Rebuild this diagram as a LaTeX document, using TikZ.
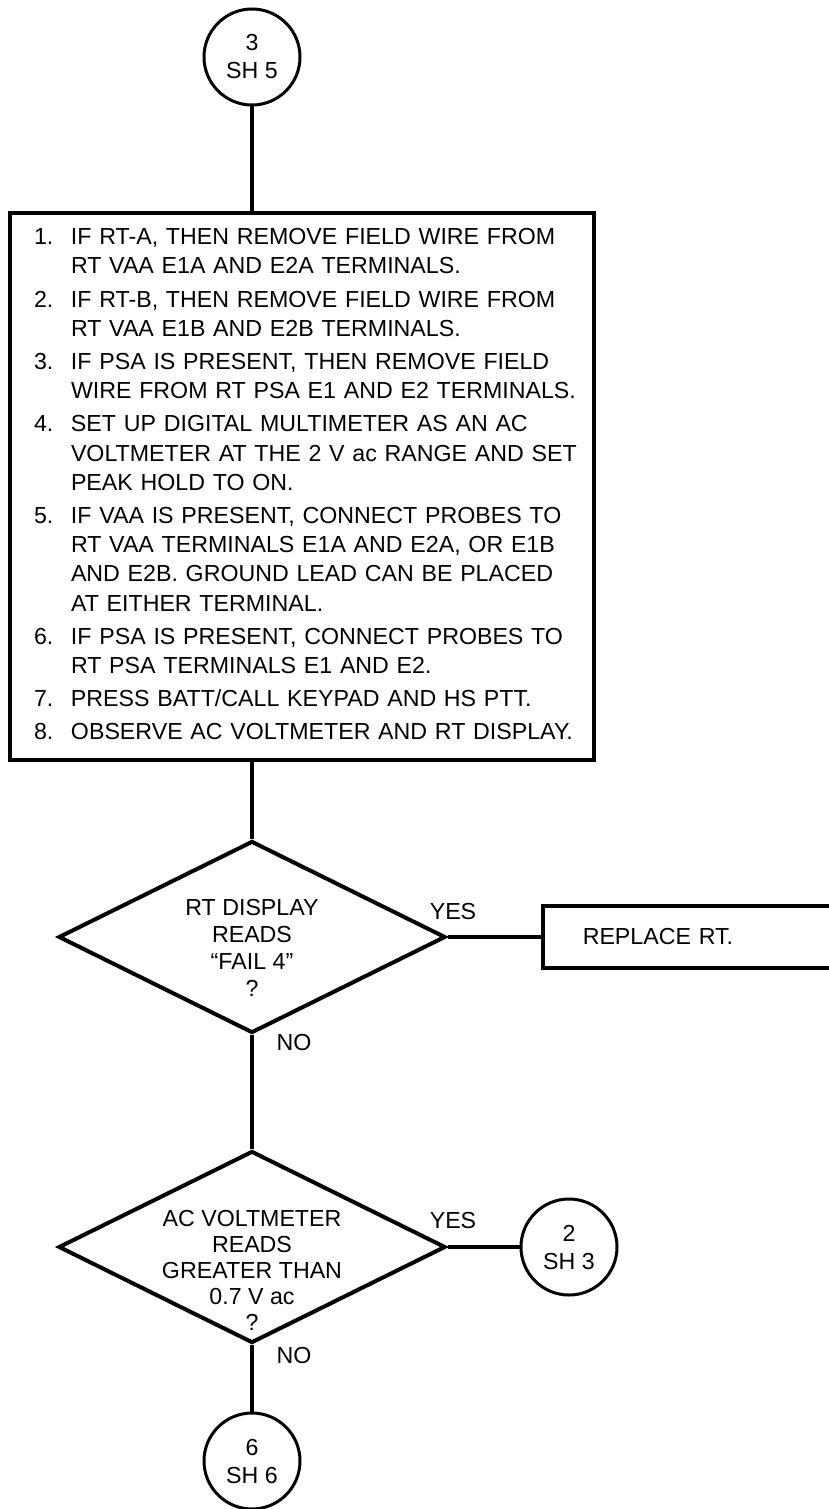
\documentclass[tikz,border=0pt]{standalone}
\usepackage{fontspec}
\setmainfont{Liberation Sans}
\usetikzlibrary{shapes.geometric}

\begin{document}
\begin{tikzpicture}[x=1pt,y=-1pt,font=\fontsize{23.2}{27}\selectfont,
  conn/.style={line width=4.5pt},
  offpage/.style={circle,draw,line width=3pt,minimum size=96pt,inner sep=0pt,align=center,font=\fontsize{23.2}{28}\selectfont},
  decision/.style={diamond,draw,line width=4pt,minimum width=387pt,minimum height=192pt,inner sep=0pt},
  asktext/.style={align=center,inner sep=0pt},
  actionbox/.style={draw,line width=3.5pt,inner sep=0pt},
  branch/.style={inner sep=0pt}]
\useasboundingbox (0,0) rectangle (828,1509);
\node[offpage] (in) at (252,57) {3\\SH 5};
\node[actionbox,minimum width=584pt,minimum height=547pt,text width=536pt,align=left] (steps) at (302,486.5) {\fontsize{23.2}{29.2}\selectfont\noindent
\begin{tabular}{@{}p{37pt}@{}l@{}}
1. & IF RT-A, THEN REMOVE FIELD WIRE FROM\\
   & RT VAA E1A AND E2A TERMINALS.\\[4pt]
2. & IF RT-B, THEN REMOVE FIELD WIRE FROM\\
   & RT VAA E1B AND E2B TERMINALS.\\[4pt]
3. & IF PSA IS PRESENT, THEN REMOVE FIELD\\
   & WIRE FROM RT PSA E1 AND E2 TERMINALS.\\[4pt]
4. & SET UP DIGITAL MULTIMETER AS AN AC\\
   & VOLTMETER AT THE 2 V ac RANGE AND SET\\
   & PEAK HOLD TO ON.\\[4pt]
5. & IF VAA IS PRESENT, CONNECT PROBES TO\\
   & RT VAA TERMINALS E1A AND E2A, OR E1B\\
   & AND E2B. GROUND LEAD CAN BE PLACED\\
   & AT EITHER TERMINAL.\\[4pt]
6. & IF PSA IS PRESENT, CONNECT PROBES TO\\
   & RT PSA TERMINALS E1 AND E2.\\[4pt]
7. & PRESS BATT/CALL KEYPAD AND HS PTT.\\[4pt]
8. & OBSERVE AC VOLTMETER AND RT DISPLAY.
\end{tabular}};
\node[decision] (q1) at (252,937) {};
\node[asktext] (q1txt) at (252,947.5) {RT DISPLAY\\READS\\“FAIL 4”\\?};
\node[actionbox,anchor=west,minimum width=300pt,minimum height=62pt,text width=220pt,inner xsep=40pt,align=left] (fix) at (541,937) {REPLACE RT.};
\node[decision] (q2) at (252,1247) {};
\node[asktext,font=\fontsize{23.2}{26}\selectfont] (q2txt) at (252,1270) {AC VOLTMETER\\READS\\GREATER THAN\\0.7 V ac\\?};
\node[offpage] (out2) at (569,1247) {2\\SH 3};
\node[offpage] (out6) at (252,1461) {6\\SH 6};
\node[branch] (yes1) at (453,912) {YES};
\node[branch] (no1) at (294,1043) {NO};
\node[branch] (yes2) at (453,1220) {YES};
\node[branch] (no2) at (294,1355) {NO};
\draw[conn] (in) -- (in |- steps.north);
\draw[conn] (steps.south -| q1.north) -- (q1.north);
\draw[conn,line width=3.5pt] (q1.east) -- (fix.west);
\draw[conn] (q1.south) -- (q2.north);
\draw[conn] (q2.east) -- (out2.west);
\draw[conn] (q2.south) -- (out6.north);
\end{tikzpicture}
\end{document}
